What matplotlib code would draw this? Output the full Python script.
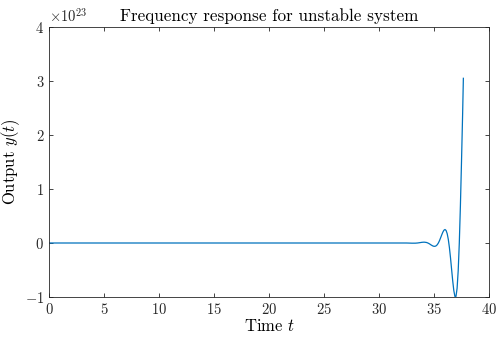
import matplotlib
matplotlib.use("Agg")
import matplotlib.pyplot as plt
from matplotlib.ticker import ScalarFormatter

# time samples and output (in units of 1e23)
t = [0, 32.5, 33.0, 33.3, 33.5, 33.7, 33.9, 34.1, 34.3, 34.4, 34.5, 34.6,
     34.7, 34.8, 34.9, 35.0, 35.1, 35.2, 35.3, 35.4, 35.5, 35.6, 35.7, 35.8,
     35.9, 36.0, 36.1, 36.2, 36.3, 36.4, 36.5, 36.6, 36.7, 36.8, 36.9, 36.95,
     37.0, 37.1, 37.2, 37.3, 37.4, 37.5, 37.6, 37.67]
y = [0, 0, -0.0034, -0.0031, 0, 0.0059, 0.0125, 0.0156, 0.0105, 0.0037,
     -0.0058, -0.0175, -0.0313, -0.0441, -0.0551, -0.0614, -0.0607, -0.0514,
     -0.0307, 0.0015, 0.0442, 0.0956, 0.149, 0.199, 0.236, 0.250, 0.2316,
     0.172, 0.067, -0.0836, -0.273, -0.487, -0.699, -0.879, -0.989, -1.0,
     -0.987, -0.838, -0.512, 0, 0.686, 1.502, 2.371, 3.05]
scale = 1e23

plt.rcParams['font.family'] = 'cmr10'
plt.rcParams['mathtext.fontset'] = 'cm'
plt.rcParams['axes.unicode_minus'] = False
plt.rcParams['axes.formatter.use_mathtext'] = True

fig = plt.figure(figsize=(4.98, 3.38), dpi=100)
ax = fig.add_axes([49/498, 1 - 297/338, 440/498, 270/338])

ax.plot(t, [v * scale for v in y], color='#0072BD', linewidth=0.9)

ax.set_xlim(0, 40)
ax.set_ylim(-1 * scale, 4 * scale)
ax.set_xticks(range(0, 41, 5))
ax.set_yticks([v * scale for v in range(-1, 5)])

fmt = ScalarFormatter(useMathText=True)
ax.yaxis.set_major_formatter(fmt)

ax.tick_params(direction='in', top=True, right=True, labelsize=10.5,
               colors='#262626', length=3, width=0.6)
for s in ax.spines.values():
    s.set_linewidth(0.6)
    s.set_color('#262626')
ax.yaxis.get_offset_text().set_fontsize(10.5)

ax.set_title("Frequency response for unstable system", fontsize=12.3, pad=4)
ax.set_xlabel("Time $t$", fontsize=12, labelpad=1)
ax.set_ylabel("Output $y(t)$", fontsize=12)
ax.yaxis.set_label_coords(-0.062, 0.5)

fig.savefig("out.png", dpi=100)
